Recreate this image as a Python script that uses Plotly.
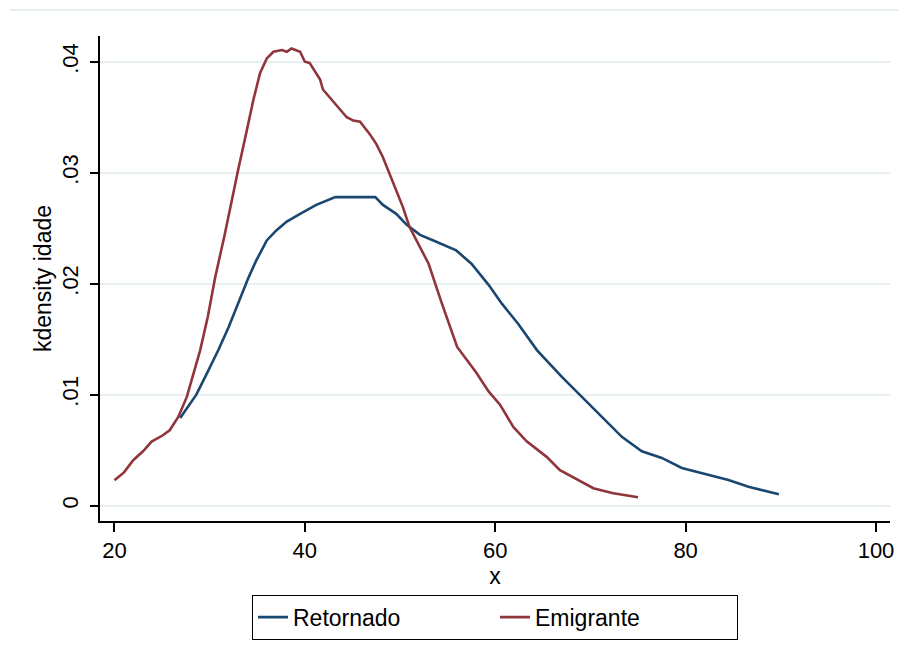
import plotly.graph_objects as go

# Retornado (kdensity idade)
ret_x = [26.9, 27.9, 28.6, 29.7, 30.9, 32.0, 33.0, 34.05, 34.9, 36.0, 37.0, 38.1, 39.5, 41.2, 43.2,
         45.0, 47.4, 48.2, 49.6, 50.7, 52.1, 53.5, 55.9, 57.5, 59.3, 60.7, 62.4, 64.4,
         67.0, 69.1, 71.2, 73.3, 75.4, 77.5, 79.6, 82.4, 84.5, 86.6, 89.8]
ret_y = [0.0079, 0.0092, 0.0100, 0.0119, 0.0140, 0.0161, 0.0183, 0.0205, 0.0221, 0.0239, 0.0248,
         0.0256, 0.0263, 0.0271, 0.0278, 0.0278, 0.0278, 0.0271, 0.0263, 0.0253, 0.0244, 0.0239,
         0.0230, 0.0218, 0.0199, 0.0182, 0.0164, 0.0140, 0.0116, 0.0098, 0.0080, 0.0062,
         0.0049, 0.0043, 0.0034, 0.00277, 0.00232, 0.00171, 0.00102]

# Emigrante (kdensity idade)
emi_x = [20.0, 21.0, 21.97, 23.0, 23.9, 25.0, 25.8, 26.7, 27.6, 28.3, 29.0, 29.8, 30.56, 31.6, 32.5,
         33.0, 33.9, 34.6, 35.3, 36.0, 36.7, 37.6, 38.1, 38.6, 39.5, 40.0, 40.5, 41.6, 41.9,
         43.0, 43.7, 44.4, 45.1, 45.8, 46.8, 47.5, 48.2, 48.9, 49.6, 50.3, 51.0, 52.1, 53.0,
         54.4, 56.0, 58.0, 59.3, 60.5, 61.9, 63.3, 65.4, 66.8, 68.9, 70.3, 72.4, 75.0]
emi_y = [0.0023, 0.0030, 0.0041, 0.0049, 0.00577, 0.0063, 0.0068, 0.0080, 0.0098, 0.0119, 0.0140,
         0.0170, 0.0205, 0.0245, 0.0283, 0.0303, 0.0338, 0.0366, 0.0390, 0.0403, 0.0409, 0.04105,
         0.0409, 0.0412, 0.0409, 0.0400, 0.0399, 0.0384, 0.0375, 0.0364, 0.0356, 0.0350, 0.0347,
         0.0346, 0.0335, 0.0326, 0.0314, 0.0299, 0.0284, 0.0269, 0.0251, 0.0233, 0.0218, 0.0182,
         0.0143, 0.0120, 0.0103, 0.0091, 0.0071, 0.0058, 0.0044, 0.0032, 0.0022, 0.00157,
         0.00112, 0.00076]

x_ticks = [20, 40, 60, 80, 100]
y_ticks = [0, 0.01, 0.02, 0.03, 0.04]
y_ticktext = ["0", ".01", ".02", ".03", ".04"]

FONT = "Liberation Sans, Arial, sans-serif"

fig = go.Figure()
fig.add_trace(go.Scatter(x=ret_x, y=ret_y, mode="lines", name="Retornado",
                         line=dict(color="#1a476f", width=2.6)))
fig.add_trace(go.Scatter(x=emi_x, y=emi_y, mode="lines", name="Emigrante",
                         line=dict(color="#90353b", width=2.6)))

fig.update_layout(
    width=898, height=653,
    margin=dict(l=92, r=16, t=28, b=140),
    paper_bgcolor="white", plot_bgcolor="white",
    font=dict(family=FONT, size=22, color="black"),
    showlegend=True,
    legend=dict(orientation="h", x=0.5, xanchor="center", y=-0.152, yanchor="top",
                bordercolor="black", borderwidth=1, font=dict(size=23, color="black"),
                entrywidth=197, entrywidthmode="pixels"),
    xaxis=dict(range=[18.48, 101.47], tickvals=x_ticks, showgrid=False, zeroline=False,
               automargin=False,
               showline=True, linecolor="black", linewidth=1.5, ticks="outside",
               ticklen=9, tickwidth=1.5, tickcolor="black",
               tickfont=dict(size=22, color="black"),
               title=dict(text="x", font=dict(size=23, color="black"), standoff=0)),
    yaxis=dict(range=[-0.00138, 0.04232], tickvals=y_ticks, ticktext=y_ticktext,
               automargin=False,
               tickangle=-90, showgrid=True, gridcolor="#e8f0f2", gridwidth=1.5,
               zeroline=False, showline=True, linecolor="black", linewidth=1.5,
               ticks="outside", ticklen=8, tickwidth=1.5, tickcolor="black",
               ticklabelstandoff=3,
               tickfont=dict(size=22, color="black"),
               title=dict(text="kdensity idade", font=dict(size=23, color="black"), standoff=0)),
    shapes=[dict(type="line", xref="paper", yref="paper", x0=-0.114, x1=1.03,
                 y0=1.0536, y1=1.0536, line=dict(color="#e6eef2", width=2))],
)

fig.write_html("out.html")
